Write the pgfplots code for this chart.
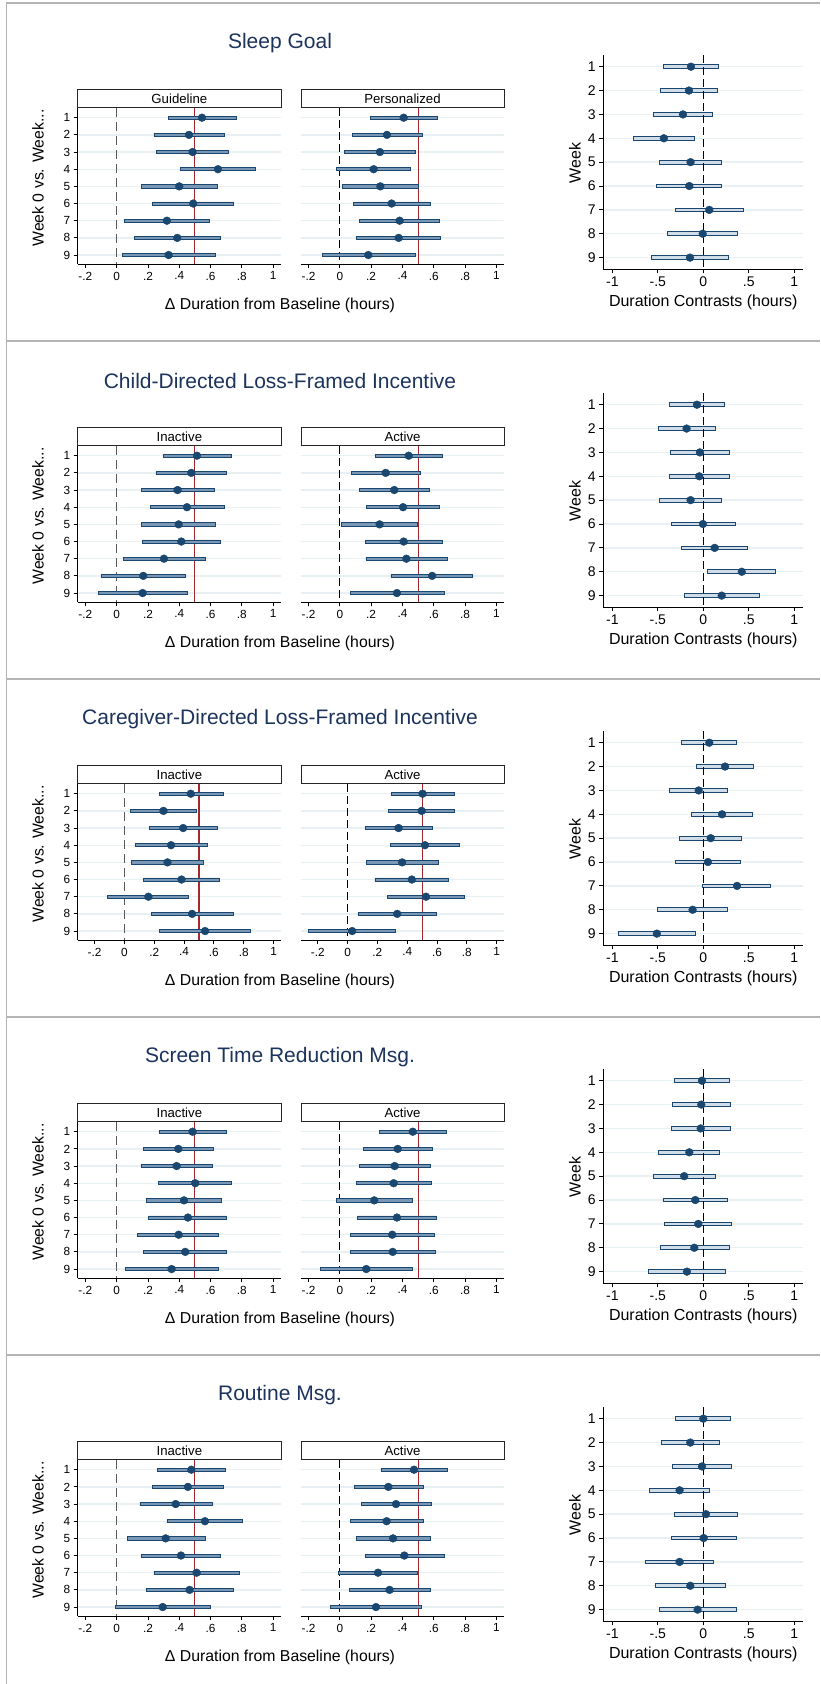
\documentclass[border=0pt]{standalone}
\usepackage{fontspec}
\setmainfont{Liberation Sans}
\usepackage{pgfplots}
\usepackage{pgfplotstable}
\pgfplotsset{compat=1.18}

\definecolor{navyd}{RGB}{26,71,111}
\definecolor{barL}{RGB}{122,152,182}
\definecolor{barC}{RGB}{208,220,232}
\definecolor{gridc}{RGB}{232,240,243}
\definecolor{refred}{RGB}{165,40,45}
\definecolor{titlec}{RGB}{28,52,92}
\definecolor{framec}{RGB}{180,180,180}

% ---------- data: week, estimate, lower CI, upper CI ----------
\pgfplotstableread{
w est lo hi
1 0.545 0.330 0.762
2 0.462 0.238 0.687
3 0.485 0.253 0.715
4 0.647 0.406 0.885
5 0.400 0.160 0.643
6 0.489 0.230 0.749
7 0.321 0.049 0.594
8 0.387 0.113 0.662
9 0.332 0.036 0.634
}\pAL
\pgfplotstableread{
w est lo hi
1 0.408 0.194 0.622
2 0.301 0.081 0.526
3 0.256 0.032 0.483
4 0.216 -0.019 0.451
5 0.259 0.019 0.500
6 0.331 0.088 0.577
7 0.382 0.126 0.639
8 0.376 0.109 0.641
9 0.182 -0.113 0.481
}\pAR
\pgfplotstableread{
w est lo hi
1 -0.136 -0.438 0.169
2 -0.158 -0.471 0.158
3 -0.224 -0.548 0.096
4 -0.434 -0.765 -0.099
5 -0.140 -0.482 0.202
6 -0.154 -0.511 0.202
7 0.066 -0.309 0.441
8 -0.007 -0.393 0.375
9 -0.147 -0.574 0.272
}\pAC
\pgfplotstableread{
w est lo hi
1 0.513 0.298 0.730
2 0.477 0.251 0.704
3 0.389 0.160 0.623
4 0.449 0.215 0.687
5 0.396 0.160 0.634
6 0.413 0.164 0.664
7 0.302 0.045 0.564
8 0.170 -0.096 0.438
9 0.166 -0.117 0.451
}\pBL
\pgfplotstableread{
w est lo hi
1 0.440 0.229 0.654
2 0.293 0.075 0.515
3 0.348 0.126 0.573
4 0.404 0.171 0.635
5 0.254 0.013 0.498
6 0.408 0.162 0.656
7 0.425 0.167 0.686
8 0.590 0.329 0.850
9 0.365 0.066 0.665
}\pBR
\pgfplotstableread{
w est lo hi
1 -0.070 -0.375 0.232
2 -0.184 -0.496 0.132
3 -0.037 -0.360 0.283
4 -0.044 -0.375 0.287
5 -0.140 -0.482 0.195
6 -0.004 -0.353 0.349
7 0.125 -0.239 0.489
8 0.423 0.051 0.794
9 0.202 -0.210 0.614
}\pBC
\pgfplotstableread{
w est lo hi
1 0.445 0.233 0.662
2 0.262 0.038 0.485
3 0.394 0.168 0.626
4 0.313 0.072 0.555
5 0.289 0.045 0.532
6 0.383 0.130 0.638
7 0.161 -0.112 0.432
8 0.454 0.179 0.732
9 0.541 0.237 0.848
}\pCL
\pgfplotstableread{
w est lo hi
1 0.503 0.292 0.719
2 0.497 0.276 0.719
3 0.342 0.121 0.566
4 0.519 0.290 0.751
5 0.366 0.128 0.607
6 0.431 0.184 0.679
7 0.526 0.270 0.784
8 0.333 0.070 0.598
9 0.031 -0.261 0.321
}\pCR
\pgfplotstableread{
w est lo hi
1 0.066 -0.239 0.364
2 0.239 -0.074 0.551
3 -0.051 -0.371 0.268
4 0.206 -0.125 0.540
5 0.081 -0.261 0.419
6 0.051 -0.305 0.408
7 0.371 -0.004 0.743
8 -0.118 -0.504 0.265
9 -0.511 -0.934 -0.088
}\pCC
\pgfplotstableread{
w est lo hi
1 0.485 0.270 0.702
2 0.394 0.170 0.617
3 0.383 0.155 0.613
4 0.502 0.268 0.734
5 0.430 0.191 0.668
6 0.455 0.204 0.702
7 0.396 0.134 0.653
8 0.438 0.172 0.702
9 0.351 0.055 0.647
}\pDL
\pgfplotstableread{
w est lo hi
1 0.466 0.254 0.682
2 0.370 0.150 0.594
3 0.350 0.124 0.577
4 0.344 0.107 0.583
5 0.220 -0.024 0.466
6 0.365 0.111 0.618
7 0.335 0.068 0.603
8 0.338 0.066 0.609
9 0.169 -0.126 0.466
}\pDR
\pgfplotstableread{
w est lo hi
1 -0.015 -0.320 0.287
2 -0.022 -0.335 0.294
3 -0.029 -0.349 0.294
4 -0.154 -0.489 0.176
5 -0.210 -0.548 0.132
6 -0.088 -0.441 0.265
7 -0.055 -0.426 0.313
8 -0.099 -0.474 0.283
9 -0.180 -0.599 0.239
}\pDC
\pgfplotstableread{
w est lo hi
1 0.477 0.260 0.694
2 0.455 0.230 0.683
3 0.377 0.149 0.609
4 0.564 0.321 0.804
5 0.313 0.066 0.564
6 0.411 0.160 0.664
7 0.511 0.238 0.783
8 0.466 0.187 0.747
9 0.294 -0.009 0.600
}\pEL
\pgfplotstableread{
w est lo hi
1 0.474 0.263 0.688
2 0.310 0.094 0.534
3 0.359 0.137 0.583
4 0.299 0.068 0.532
5 0.340 0.107 0.577
6 0.412 0.165 0.665
7 0.244 -0.009 0.498
8 0.318 0.060 0.581
9 0.231 -0.058 0.519
}\pER
\pgfplotstableread{
w est lo hi
1 0.000 -0.301 0.301
2 -0.143 -0.456 0.173
3 -0.015 -0.335 0.309
4 -0.261 -0.592 0.070
5 0.029 -0.313 0.371
6 0.004 -0.349 0.364
7 -0.261 -0.640 0.110
8 -0.143 -0.526 0.239
9 -0.063 -0.482 0.364
}\pEC

\pgfplotsset{
  geomL/.style={scale only axis, anchor=center, y dir=reverse,
    width=203.3pt, height=156.3pt, xmax=1.05, ymin=0.435, ymax=9.54},
  geomC/.style={scale only axis, anchor=center, y dir=reverse,
    width=200pt, height=214.3pt, xmin=-1.1, xmax=1.1, ymin=0.51, ymax=9.49},
  common/.style={
    axis x line*=bottom, axis y line*=left,
    axis line style={black, line width=1.1pt, -},
    ymajorgrids, grid style={draw=gridc, line width=1.4pt},
    tick align=outside, major tick length=4pt,
    tick style={black, line width=0.9pt},
    ytick={1,2,3,4,5,6,7,8,9},
    /pgf/number format/assume math mode=true,
  },
  leftax/.style={geomL, common,
    xtick={-0.2,0,0.2,0.4,0.6,0.8,1},
    xticklabels={-.2,0,.2,.4,.6,.8,1},
    ticklabel style={font=\fontsize{11.8}{13}\selectfont},
  },
  conax/.style={geomC, common,
    xtick={-1,-0.5,0,0.5,1},
    xticklabels={-1,-.5,0,.5,1},
    ticklabel style={font=\fontsize{14}{16}\selectfont},
  },
  barsL/.style={geomL, hide axis, xbar stacked, stack negative=on previous, bar width=3.1pt},
  barsC/.style={geomC, hide axis, xbar stacked, stack negative=on previous, bar width=3.7pt},
  invis/.style={draw=none, fill=none},
  rectL/.style={draw=navyd, fill=barL, line width=0.8pt},
  rectC/.style={draw=navyd, fill=barC, line width=0.9pt},
  dot/.style={only marks, mark=*, mark size=3.9pt, color=navyd},
  zeroL/.style={black!65, line width=1.4pt, dash pattern=on 9pt off 5pt},
  zeroR/.style={black, line width=1.1pt, dash pattern=on 8pt off 4pt},
  half/.style={refred, line width=1.1pt},
}

% #1 panel index, #2 title, #3/#4 headers, #5/#6/#7 tables, #8 xmin of left plots
\newcommand\panel[8]{%
\pgfmathsetmacro\oy{#1*338}%
\begin{scope}[x=1pt,y=-1pt,shift={(0,\oy)}]
  \draw[framec, line width=2pt] (6,2.7) -- (820,2.7);
  \node[font=\fontsize{21}{25}\selectfont, text=titlec] at (280,43) {#2};
  \draw[black!85, line width=1pt] (77.7,89.3) rectangle (281,107.7);
  \draw[black!85, line width=1pt] (301,89.3) rectangle (504,107.7);
  \node[font=\fontsize{13.2}{15}\selectfont] at (179.35,98.5) {#3};
  \node[font=\fontsize{13.2}{15}\selectfont] at (402.5,98.5) {#4};
  \node[font=\fontsize{15.8}{18}\selectfont] at (280,305) {Δ Duration from Baseline (hours)};
  \node[font=\fontsize{15.8}{18}\selectfont, rotate=90] at (38,178) {Week 0 vs. Week...};
  \node[font=\fontsize{16}{18}\selectfont, rotate=90] at (575,163) {Week};
  \node[font=\fontsize{16}{18}\selectfont] at (703.3,302.7) {Duration Contrasts (hours)};
\end{scope}
% left facet
\begin{axis}[leftax, xmin=#8, at={(179.35pt,{-(186.15+\oy)*1pt})}]
  \addplot[zeroL] coordinates {(0,0.435) (0,9.54)};
  \addplot[half] coordinates {(0.5,0.435) (0.5,9.54)};
\end{axis}
\begin{axis}[barsL, xmin=#8, at={(179.35pt,{-(186.15+\oy)*1pt})}]
  \addplot[invis] table[x=lo,y=w]{#5};
  \addplot[rectL] table[x expr=\thisrow{hi}-\thisrow{lo},y=w]{#5};
\end{axis}
\begin{axis}[geomL, hide axis, xmin=#8, at={(179.35pt,{-(186.15+\oy)*1pt})}]
  \addplot[dot] table[x=est,y=w]{#5};
\end{axis}
% right facet
\begin{axis}[leftax, xmin=#8, at={(402.5pt,{-(186.15+\oy)*1pt})},
    y axis line style={draw=none}, yticklabels={}, ytick style={draw=none}]
  \addplot[zeroR] coordinates {(0,0.435) (0,9.54)};
  \addplot[half] coordinates {(0.5,0.435) (0.5,9.54)};
\end{axis}
\begin{axis}[barsL, xmin=#8, at={(402.5pt,{-(186.15+\oy)*1pt})}]
  \addplot[invis] table[x=lo,y=w]{#6};
  \addplot[rectL] table[x expr=\thisrow{hi}-\thisrow{lo},y=w]{#6};
\end{axis}
\begin{axis}[geomL, hide axis, xmin=#8, at={(402.5pt,{-(186.15+\oy)*1pt})}]
  \addplot[dot] table[x=est,y=w]{#6};
\end{axis}
% contrasts
\begin{axis}[conax, at={(703.3pt,{-(162.15+\oy)*1pt})}]
\end{axis}
\begin{axis}[barsC, at={(703.3pt,{-(162.15+\oy)*1pt})}]
  \addplot[invis] table[x=lo,y=w]{#7};
  \addplot[rectC] table[x expr=\thisrow{hi}-\thisrow{lo},y=w]{#7};
\end{axis}
\begin{axis}[geomC, hide axis, at={(703.3pt,{-(162.15+\oy)*1pt})}]
  \addplot[zeroR] coordinates {(0,0.51) (0,9.49)};
  \addplot[dot] table[x=est,y=w]{#7};
\end{axis}
}

\begin{document}
\begin{tikzpicture}
\useasboundingbox (0,0) rectangle (820pt,-1684pt);
\fill[white] (0,0) rectangle (820pt,-1684pt);
\draw[framec, line width=1.3pt] (6.5pt,-2.7pt) -- (6.5pt,-1684pt);
\panel{0}{Sleep Goal}{Guideline}{Personalized}{\pAL}{\pAR}{\pAC}{-0.249}
\panel{1}{Child-Directed Loss-Framed Incentive}{Inactive}{Active}{\pBL}{\pBR}{\pBC}{-0.249}
\panel{2}{Caregiver-Directed Loss-Framed Incentive}{Inactive}{Active}{\pCL}{\pCR}{\pCC}{-0.313}
\panel{3}{Screen Time Reduction Msg.}{Inactive}{Active}{\pDL}{\pDR}{\pDC}{-0.249}
\panel{4}{Routine Msg.}{Inactive}{Active}{\pEL}{\pER}{\pEC}{-0.249}
\end{tikzpicture}
\end{document}
